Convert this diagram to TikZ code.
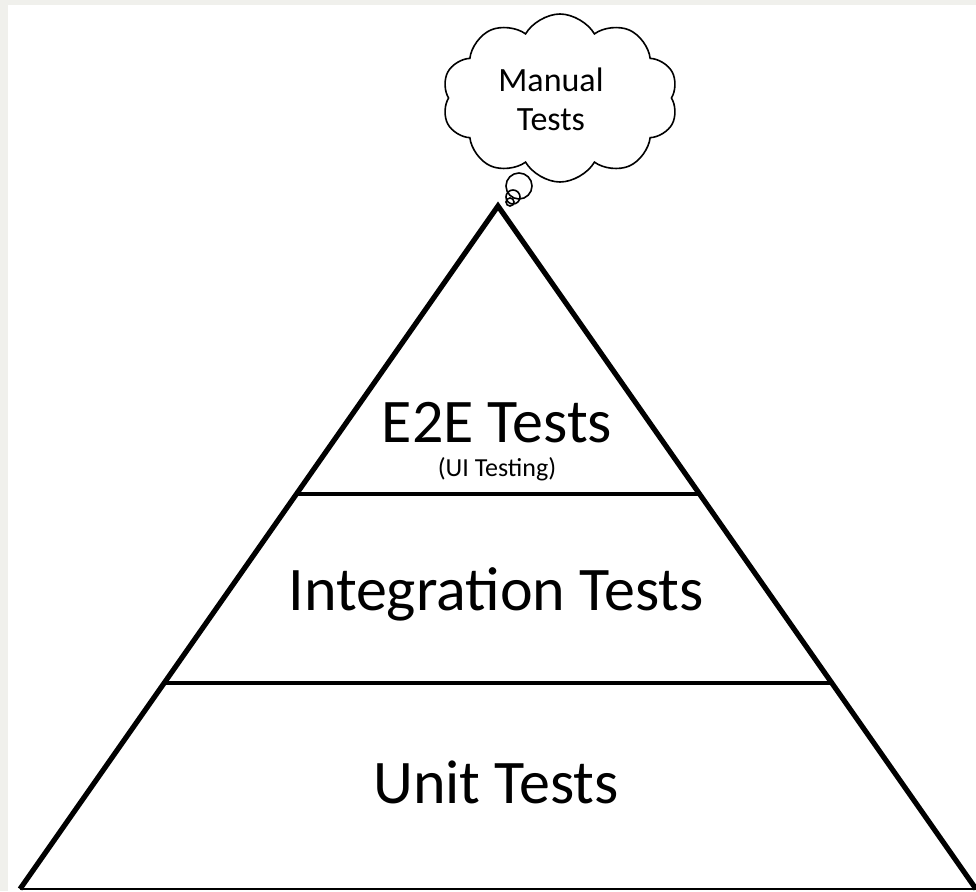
\documentclass[tikz,border=0pt]{standalone}
\usepackage{fontspec}
\setmainfont{Carlito}
\usetikzlibrary{shapes.symbols}
\definecolor{sheetgrey}{RGB}{240,240,236}

\begin{document}
\begin{tikzpicture}[
    x=0.5pt, y=-0.5pt,
    side/.style={line width=2.6pt, line join=miter},
    divider/.style={line width=2.1pt},
    bigtext/.style={anchor=base, inner sep=0pt, font=\fontsize{31}{37}\selectfont},
    smalltext/.style={anchor=base, inner sep=0pt, font=\fontsize{13}{15}\selectfont},
    thought/.style={cloud, draw, fill=white, line width=0.8pt, cloud puffs=10, cloud puff arc=120, aspect=1.35, minimum width=118pt, minimum height=84pt},
    cloudtext/.style={align=center, inner sep=0pt, font=\fontsize{17}{19.5}\selectfont},
    bubble/.style={draw, line width=0.8pt}
]

% sheet
\useasboundingbox (0,0) rectangle (976,891);
\fill[sheetgrey] (0,0) rectangle (976,891);
\fill[white] (8,5) rectangle (976,891);

% pyramid
\coordinate (apex) at (498,206);
\coordinate (baseL) at (20,889);
\coordinate (baseR) at (976,889);
\draw[side] (baseL) -- (apex) -- (baseR);
\draw[line width=1pt] (baseL) -- (baseR);
\draw[divider] (297,494) -- (700,494);
\draw[divider] (164,683) -- (833,683);

% layer labels
\node (e2e) [bigtext] at (497,442) {E2E Tests};
\node (ui) [smalltext] at (497,476) {(UI Testing)};
\node (integration) [bigtext] at (496,610) {Integration Tests};
\node (unit) [bigtext] at (496,803) {Unit Tests};

% thought bubble
\draw[bubble] (519,186) circle (6.5pt);
\node (cloud) [thought] at (560,98) {};
\node (manual) [cloudtext] at (551,99) {Manual\\Tests};
\draw[bubble] (513,197) circle (3.5pt);
\draw[bubble] (510,202) circle (2pt);

\end{tikzpicture}
\end{document}
